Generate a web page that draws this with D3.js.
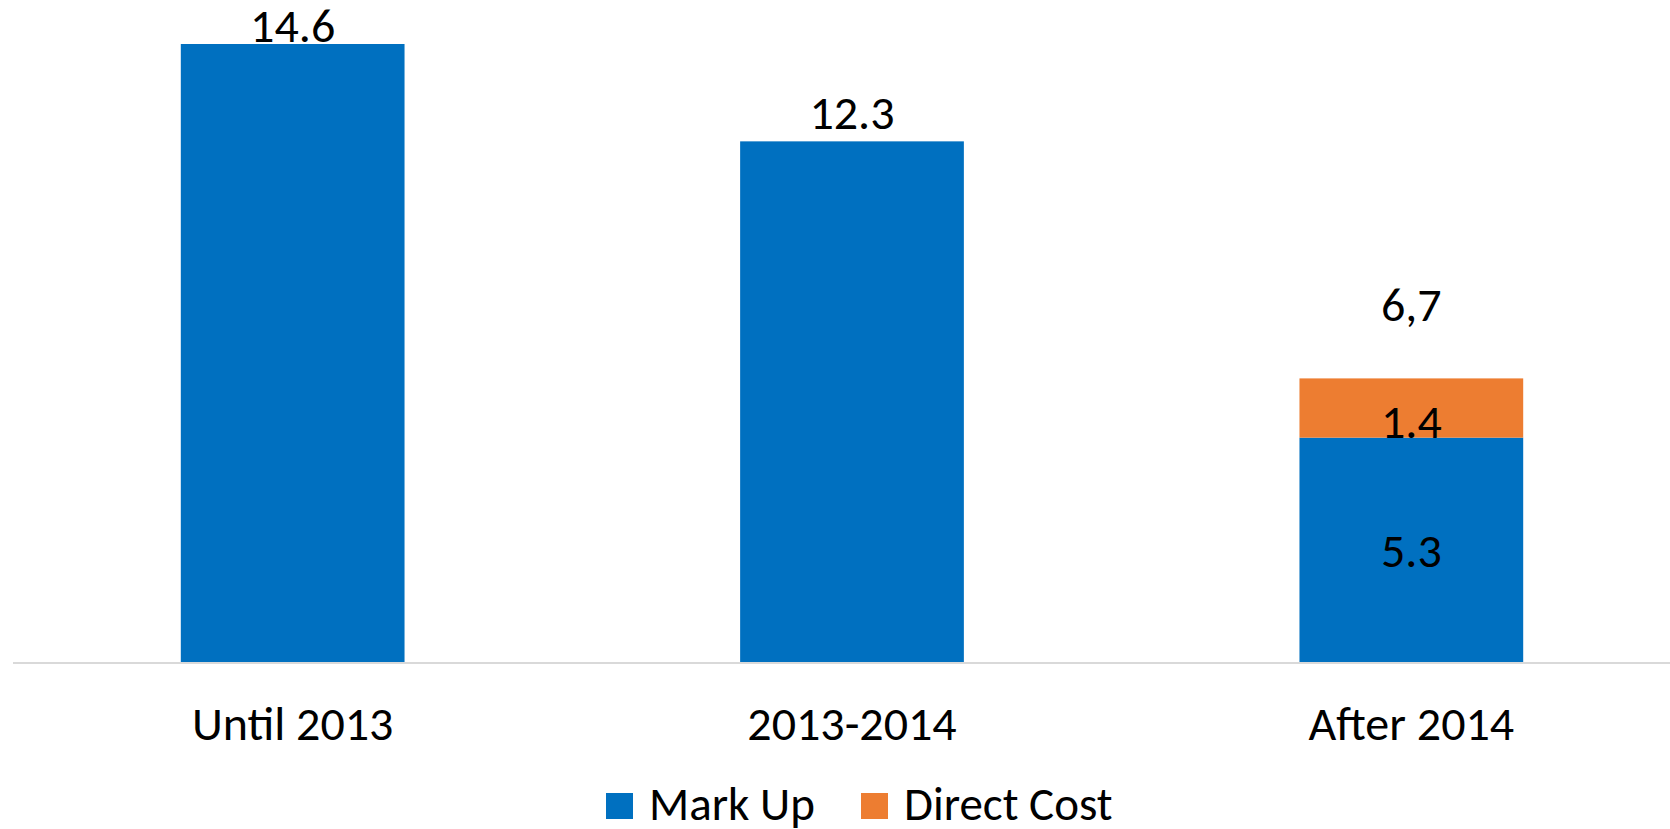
<!DOCTYPE html>
<html>
<head>
<meta charset="utf-8">
<script src="https://cdn.jsdelivr.net/npm/d3@7"></script>
<style>
  body { margin: 0; background: #fff; }
  text { font-family: Calibri, Carlito, Lato, sans-serif; fill: #000; }
</style>
</head>
<body>
<div id="chart"></div>
<script>
const categories = ["Until 2013", "2013-2014", "After 2014"];
const markUp = [14.6, 12.3, 5.3];
const directCost = [0, 0, 1.4];
const totalLabels = ["", "", "6,7"];
const seriesNames = ["Mark Up", "Direct Cost"];
const colors = ["#0070c0", "#ed7d31"];

const width = 1670;
const height = 829;
const baseY = 662;

let svg = d3.select("#chart")
            .append("svg")
                .attr("width", width)
                .attr("height", height)

let x = d3.scaleBand()
    .domain(categories)
    .range([13, 1691])
    .paddingInner(0.6)
    .paddingOuter(0.3)

let y = d3.scaleLinear()
    .domain([0, 14.6])
    .range([baseY, 44])

let rows = categories.map((c, i) => ({cat: c, "Mark Up": markUp[i], "Direct Cost": directCost[i]}))
let stacked = d3.stack().keys(seriesNames)(rows)

// bars
svg.selectAll("g.series")
    .data(stacked)
    .enter()
    .append("g")
        .attr("fill", (d, i) => colors[i])
    .selectAll("rect")
    .data(d => d)
    .enter()
    .append("rect")
        .attr("x", d => x(d.data.cat))
        .attr("y", d => y(d[1]))
        .attr("width", x.bandwidth())
        .attr("height", d => y(d[0]) - y(d[1]))

// axis line
svg.append("line")
    .attr("x1", 13)
    .attr("x2", width)
    .attr("y1", baseY + 1)
    .attr("y2", baseY + 1)
    .attr("stroke", "#d9d9d9")
    .attr("stroke-width", 2)

// category labels
svg.selectAll("text.cat")
    .data(categories)
    .enter()
    .append("text")
        .attr("class", "cat")
        .attr("x", d => x(d) + x.bandwidth() / 2)
        .attr("y", 740)
        .attr("text-anchor", "middle")
        .attr("font-size", "48px")
        .text(d => d)

// value labels: bars with a single segment get the label above
categories.forEach((c, i) => {
    let cx = x(c) + x.bandwidth() / 2
    if (directCost[i] === 0) {
        svg.append("text")
            .attr("x", cx)
            .attr("y", Math.max(y(markUp[i]) - 12, 42))
            .attr("text-anchor", "middle")
            .attr("font-size", "48px")
            .text(markUp[i].toFixed(1))
    } else {
        svg.append("text")
            .attr("x", cx)
            .attr("y", (y(0) + y(markUp[i])) / 2 + 17)
            .attr("text-anchor", "middle")
            .attr("font-size", "48px")
            .text(markUp[i].toFixed(1))
        svg.append("text")
            .attr("x", cx)
            .attr("y", y(markUp[i]))
            .attr("text-anchor", "middle")
            .attr("font-size", "48px")
            .text(directCost[i].toFixed(1))
        svg.append("text")
            .attr("x", cx)
            .attr("y", y(markUp[i] + directCost[i]) - 57)
            .attr("text-anchor", "middle")
            .attr("font-size", "48px")
            .text(totalLabels[i])
    }
})

// legend
let legendX = [606, 861]
let legend = svg.selectAll("g.legend")
    .data(seriesNames)
    .enter()
    .append("g")
        .attr("transform", (d, i) => `translate(${legendX[i]}, 793)`)

legend.append("rect")
    .attr("width", 27)
    .attr("height", 26)
    .attr("fill", (d, i) => colors[i])

legend.append("text")
    .attr("x", 43)
    .attr("y", 27)
    .attr("font-size", "47px")
    .text(d => d)
</script>
</body>
</html>
